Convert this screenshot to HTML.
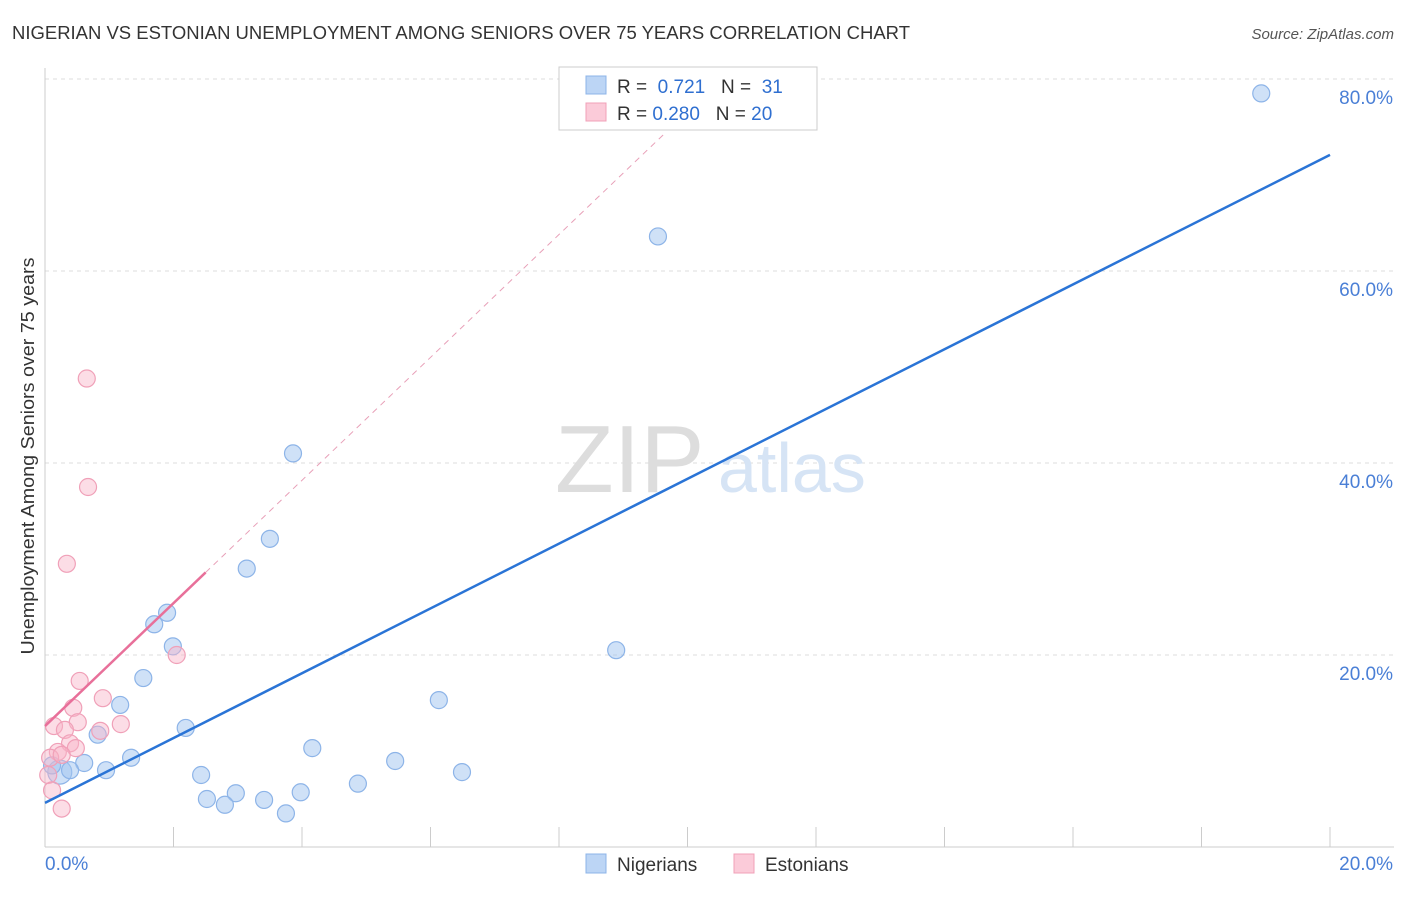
<!DOCTYPE html>
<html><head><meta charset="utf-8"><style>
body{margin:0;background:#fff;font-family:"Liberation Sans",sans-serif;}
svg text{font-family:"Liberation Sans",sans-serif;}
</style></head><body>
<svg width="1406" height="892">
<text x="12" y="39" font-size="18" fill="#333" textLength="898" lengthAdjust="spacingAndGlyphs">NIGERIAN VS ESTONIAN UNEMPLOYMENT AMONG SENIORS OVER 75 YEARS CORRELATION CHART</text>
<text x="1394" y="39" font-size="15" fill="#555" font-style="italic" text-anchor="end">Source: ZipAtlas.com</text>
<g id="grid"></g>
<text x="555" y="492" font-size="96" fill="#ddd" font-family="Liberation Serif">ZIP</text>
<text x="718" y="492" font-size="70" fill="#d6e4f5">atlas</text>
<g id="marks"></g>
<text transform="translate(34,456) rotate(-90)" font-size="18" fill="#333" text-anchor="middle" textLength="397" lengthAdjust="spacingAndGlyphs">Unemployment Among Seniors over 75 years</text>
<g>
<rect x="559" y="67" width="258" height="63" fill="#fff" stroke="#ccc"/>
<rect x="586" y="76" width="20" height="18" fill="#bcd5f5" stroke="#8db4e8"/>
<rect x="586" y="103" width="20" height="18" fill="#fbcbd9" stroke="#f0a0b8"/>
<text x="617" y="93" font-size="19" fill="#333">R = <tspan fill="#2f6fd0">&#160;0.721</tspan>&#160;&#160;&#160;N = <tspan fill="#2f6fd0">&#160;31</tspan></text>
<text x="617" y="120" font-size="19" fill="#333">R = <tspan fill="#2f6fd0">0.280</tspan>&#160;&#160;&#160;N = <tspan fill="#2f6fd0">20</tspan></text>
</g>
<g>
<rect x="586" y="854" width="20" height="19" fill="#bcd5f5" stroke="#8db4e8"/>
<text x="617" y="871" font-size="19" fill="#333">Nigerians</text>
<rect x="734" y="854" width="20" height="19" fill="#fbcbd9" stroke="#f0a0b8"/>
<text x="765" y="871" font-size="19" fill="#333">Estonians</text>
</g>
</svg>
<script>
const xTicks=[0,20];
const yTicks=[20,40,60,80];
const blueX=[18.93,9.54,3.86,3.50,3.14,1.90,1.70,1.99,8.89,1.53,1.17,6.13,2.19,0.82,4.16,1.34,0.61,5.45,0.95,6.49,2.43,0.23,0.39,4.87,2.97,3.98,2.52,3.41,2.80,3.75,0.11];
const blueY=[78.5,63.6,41.0,32.1,29.0,24.4,23.2,20.9,20.5,17.6,14.8,15.3,12.4,11.7,10.3,9.3,8.75,8.96,8.0,7.8,7.5,7.8,8.0,6.6,5.6,5.7,5.0,4.9,4.4,3.5,8.5];
const pinkX=[0.65,0.67,0.34,2.05,0.54,0.90,0.44,0.14,0.51,1.18,0.31,0.86,0.39,0.48,0.20,0.08,0.26,0.05,0.11,0.26];
const pinkY=[48.8,37.5,29.5,20.0,17.3,15.5,14.5,12.6,13.0,12.8,12.2,12.1,10.8,10.3,9.9,9.3,9.6,7.5,5.9,4.0];
const blueFit=[4.6,72.1];
const pinkFit=[12.6,6.4];
const X=v=>45+v*64.25, Y=v=>847-v*9.6;
const NS='http://www.w3.org/2000/svg';
const grid=document.getElementById('grid'), marks=document.getElementById('marks');
function mk(p,tag,a){const e=document.createElementNS(NS,tag);for(const k in a)e.setAttribute(k,a[k]);p.appendChild(e);return e;}
yTicks.forEach(t=>{
 const l=mk(grid,'line',{x1:45,x2:1394,y1:Y(t),y2:Y(t),stroke:'#ddd','stroke-dasharray':'4,4'});
 
 
 const tx=mk(grid,'text',{x:1393,y:Y(t)+25,'font-size':19,fill:'#4a7fd6','text-anchor':'end'});tx.textContent=t.toFixed(1)+'%';
 
 
});
mk(grid,'line',{x1:45,x2:45,y1:68,y2:847,stroke:'#ccc'});
mk(grid,'line',{x1:45,x2:1394,y1:847,y2:847,stroke:'#ccc'});
for(let i=1;i<=10;i++){const l=mk(grid,'line',{x1:X(i*2),x2:X(i*2),y1:827,y2:847,stroke:'#ccc'});
 
 }
xTicks.forEach((t,i)=>{const tx=mk(grid,'text',{x:i?1393:45,y:870,'font-size':19,fill:'#4a7fd6','text-anchor':i?'end':'start'});tx.textContent=t.toFixed(1)+'%';
 
 });
blueX.forEach((x,i)=>{const c=mk(marks,'circle',{cx:X(x),cy:Y(blueY[i]),r:i==21?12:8.5,fill:'rgba(160,196,240,0.5)',stroke:'#8db4e8','stroke-width':1.2});
 
 });
pinkX.forEach((x,i)=>{const c=mk(marks,'circle',{cx:X(x),cy:Y(pinkY[i]),r:8.5,fill:'rgba(248,180,200,0.45)',stroke:'#f0a0b8','stroke-width':1.2});
 
 });
const bl=mk(marks,'line',{x1:X(0),y1:Y(blueFit[0]),x2:X(20),y2:Y(blueFit[1]),stroke:'#2a74d6','stroke-width':2.5});


const pe=9.65;
const pd=mk(marks,'line',{x1:X(2.5),y1:Y(pinkFit[0]+pinkFit[1]*2.5),x2:X(pe),y2:Y(pinkFit[0]+pinkFit[1]*pe),stroke:'#e8a0b8','stroke-width':1,'stroke-dasharray':'6,5'});


const pl=mk(marks,'line',{x1:X(0),y1:Y(pinkFit[0]),x2:X(2.5),y2:Y(pinkFit[0]+pinkFit[1]*2.5),stroke:'#e8709a','stroke-width':2.5});


</script>
</body></html>
